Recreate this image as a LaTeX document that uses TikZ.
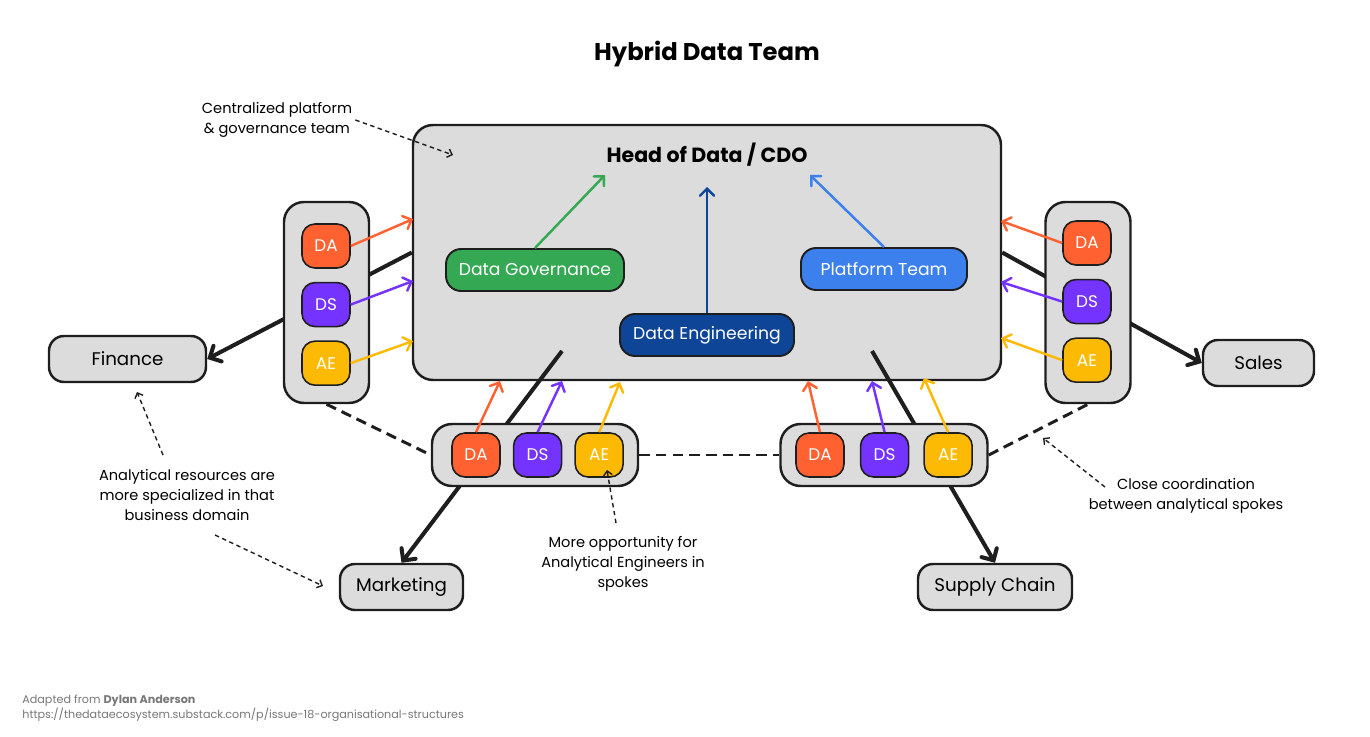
\documentclass[tikz,border=0pt]{standalone}
\usepackage{fontspec}
\setmainfont{Poppins}
\usepackage{xcolor}
\usetikzlibrary{positioning, arrows.meta}

\definecolor{boxgray}{HTML}{DCDCDC}
\definecolor{edgeblack}{HTML}{1E1E1E}
\definecolor{daorange}{HTML}{FF6130}
\definecolor{dspurple}{HTML}{7433FF}
\definecolor{aeyellow}{HTML}{FDBA05}
\definecolor{govgreen}{HTML}{34A853}
\definecolor{engblue}{HTML}{0F4596}
\definecolor{platblue}{HTML}{3C80EE}
\definecolor{creditgray}{HTML}{777777}

\newlength{\pu}
\setlength{\pu}{0.02cm}

\begin{document}
\begin{tikzpicture}[
    x=1\pu, y=-1\pu,
    every node/.style={inner sep=0pt},
    pod/.style={rectangle, draw=edgeblack, line width=1.4pt, rounded corners=20\pu, fill=boxgray},
    unitbox/.style={rectangle, draw=edgeblack, line width=1.4pt, rounded corners=15\pu, fill=boxgray, minimum height=46\pu, font=\fontsize{10.4}{12}\selectfont},
    team/.style={rectangle, draw=edgeblack, line width=1.1pt, rounded corners=15\pu, minimum height=42\pu, text=white, font=\fontsize{9.8}{12}\selectfont},
    chip/.style={rectangle, draw=edgeblack, line width=0.9pt, rounded corners=13\pu, minimum width=48\pu, minimum height=44\pu, text=white, font=\fontsize{9.6}{11}\selectfont},
    da/.style={chip, fill=daorange},
    ds/.style={chip, fill=dspurple},
    ae/.style={chip, fill=aeyellow},
    spoke/.style={draw=edgeblack, line width=2.3pt, -{Straight Barb[length=5pt, width=10pt, line cap=round]}},
    feed/.style={line width=1.4pt, -{Straight Barb[length=4pt, width=8pt, line cap=round]}},
    link/.style={draw=edgeblack, line width=1.7pt, dash pattern=on 6pt off 3.5pt},
    note/.style={font=\fontsize{8.3}{11.4}\selectfont, align=center},
    hint/.style={draw=edgeblack, line width=0.8pt, dash pattern=on 2.5pt off 2pt, -{Straight Barb[length=2.5pt, width=5pt]}},
]
    \useasboundingbox (0,0) rectangle (1370,737);

    % Title
    \node[font=\bfseries\fontsize{13.8}{16}\selectfont] (title) at (707,54) {Hybrid Data Team};

    % Central hub
    \node[pod, minimum width=588\pu, minimum height=255\pu] (hub) at (707,252.5) {};
    \node[font=\bfseries\fontsize{11.7}{14}\selectfont] (cdo) at (707,155) {Head of Data / CDO};
    \node[team, fill=govgreen, minimum width=178\pu] (gov) at (535,270) {Data Governance};
    \node[team, fill=platblue, minimum width=166\pu] (plat) at (884,269) {Platform Team};
    \node[team, fill=engblue, minimum width=174\pu] (eng) at (707,335) {Data Engineering};

    \coordinate (cdoL) at (605,175);
    \coordinate (cdoM) at (707,187);
    \coordinate (cdoR) at (810,175);
    \draw[feed, govgreen] (gov.north) -- (cdoL);
    \draw[feed, engblue] (eng.north) -- (cdoM);
    \draw[feed, platblue] (plat.north) -- (cdoR);

    % Business domains
    \node[unitbox, minimum width=157\pu] (fin) at (127.5,359) {Finance};
    \node[unitbox, minimum width=111\pu] (sales) at (1258.5,363) {Sales};
    \node[unitbox, minimum width=123\pu] (mkt) at (401.5,587) {Marketing};
    \node[unitbox, minimum width=154\pu] (supply) at (995,587) {Supply Chain};

    % Spokes
    \coordinate (hubBL) at (562,351);
    \coordinate (hubBR) at (872,351);
    \draw[spoke] (hub.west) -- (fin.east);
    \draw[spoke] (hub.east) -- (sales.west);
    \draw[spoke] (hubBL) -- (mkt.north);
    \draw[spoke] (hubBR) -- (supply.north);

    % Analytical pods
    \node[pod, minimum width=85\pu, minimum height=201\pu] (podL) at (326.5,302.5) {};
    \node[pod, minimum width=85\pu, minimum height=201\pu] (podR) at (1088,302.5) {};
    \node[pod, minimum width=206\pu, minimum height=62\pu] (podBL) at (535,455) {};
    \node[pod, minimum width=207\pu, minimum height=62\pu] (podBR) at (884,455) {};

    \node[da] (lDA) at (326,246) {DA};
    \node[ds] (lDS) [below=13\pu of lDA] {DS};
    \node[ae] (lAE) [below=13\pu of lDS] {AE};

    \node[da] (rDA) at (1087,243) {DA};
    \node[ds] (rDS) [below=13\pu of rDA] {DS};
    \node[ae] (rAE) [below=13\pu of rDS] {AE};

    \node[da] (bDA) at (476,455) {DA};
    \node[ds] (bDS) [right=12\pu of bDA] {DS};
    \node[ae] (bAE) [right=12\pu of bDS] {AE};

    \node[da] (cDA) at (820,455) {DA};
    \node[ds] (cDS) [right=15\pu of cDA] {DS};
    \node[ae] (cAE) [right=14\pu of cDS] {AE};

    % Feeds into the hub
    \coordinate (inL1) at (413,219);
    \coordinate (inL2) at (413,281);
    \coordinate (inL3) at (413,341);
    \coordinate (inR1) at (1001,221);
    \coordinate (inR2) at (1001,282);
    \coordinate (inR3) at (1001,338);
    \coordinate (inB1) at (500,381);
    \coordinate (inB2) at (562,381);
    \coordinate (inB3) at (620,382);
    \coordinate (inC1) at (808,381);
    \coordinate (inC2) at (872,381);
    \coordinate (inC3) at (924,378);

    \draw[feed, daorange] (lDA.east) -- (inL1);
    \draw[feed, dspurple] (lDS.east) -- (inL2);
    \draw[feed, aeyellow] (lAE.east) -- (inL3);
    \draw[feed, daorange] (rDA.west) -- (inR1);
    \draw[feed, dspurple] (rDS.west) -- (inR2);
    \draw[feed, aeyellow] (rAE.west) -- (inR3);
    \draw[feed, daorange] (bDA.north) -- (inB1);
    \draw[feed, dspurple] (bDS.north) -- (inB2);
    \draw[feed, aeyellow] (bAE.north) -- (inB3);
    \draw[feed, daorange] (cDA.north) -- (inC1);
    \draw[feed, dspurple] (cDS.north) -- (inC2);
    \draw[feed, aeyellow] (cAE.north) -- (inC3);

    % Coordination between pods
    \draw[link] (podL.south) -- (podBL.west);
    \draw[link] (podBL.east) -- (podBR.west);
    \draw[link] (podBR.east) -- (podR.south);

    % Notes
    \node[note] (noteHub) at (277,120) {Centralized platform\\\& governance team};
    \node[note] (noteDom) at (187,495) {Analytical resources are\\more specialized in that\\business domain};
    \node[note] (noteAE) at (623,564) {More opportunity for\\Analytical Engineers in\\spokes};
    \node[note] (noteLink) at (1186,496) {Close coordination\\between analytical spokes};

    \coordinate (hubTip) at (453,155);
    \coordinate (domUp) at (163,455);
    \coordinate (finTip) at (137,392);
    \coordinate (domDown) at (215,535);
    \coordinate (mktTip) at (323,586);
    \coordinate (aeUp) at (616,523);
    \coordinate (aeTip) at (607,470);
    \coordinate (linkUp) at (1105,487);
    \coordinate (linkTip) at (1043,438);

    \draw[hint] ([xshift=3\pu]noteHub.east) -- (hubTip);
    \draw[hint] (domUp) -- (finTip);
    \draw[hint] (domDown) -- (mktTip);
    \draw[hint] (aeUp) -- (aeTip);
    \draw[hint] (linkUp) -- (linkTip);

    % Credit
    \node[anchor=west, align=left, text=creditgray, font=\fontsize{6.36}{8.5}\selectfont] (credit) at (22,708.5)
        {Adapted from \textbf{Dylan Anderson}\\https://thedataecosystem.substack.com/p/issue-18-organisational-structures};

\end{tikzpicture}
\end{document}
